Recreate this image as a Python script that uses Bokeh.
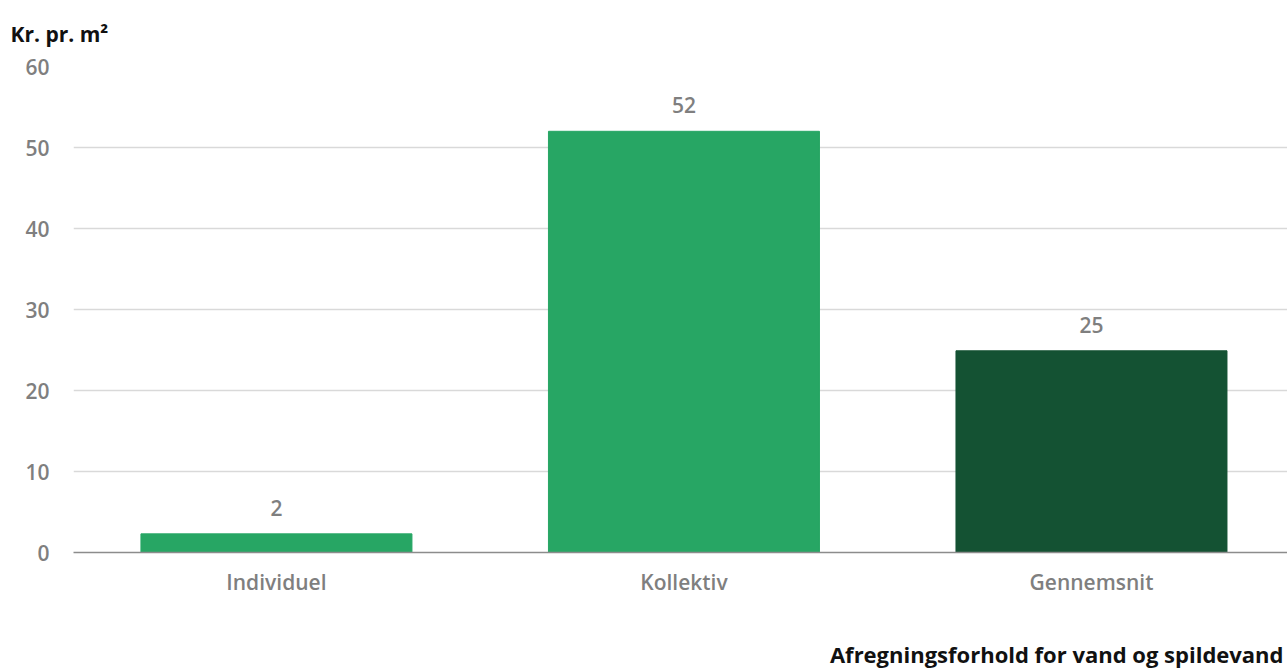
from bokeh.plotting import figure
from bokeh.models import ColumnDataSource, Range1d, LabelSet, Title, SingleIntervalTicker, FixedTicker
from bokeh.core.properties import value
from bokeh.embed import file_html
from bokeh.resources import INLINE

categories = ["Individuel", "Kollektiv", "Gennemsnit"]
values = [2.3, 52.0, 24.9]
value_labels = ["2", "52", "25"]
colors = ["#27a664", "#27a664", "#145233"]
y_title = "Kr. pr. m²"
x_title = "Afregningsforhold for vand og spildevand"

FONT = "Open Sans"
SEMI = "Open Sans SemiBold, Open Sans"
GRAY = "#7f7f7f"

xs = list(range(len(categories)))
src = ColumnDataSource(dict(x=xs, val=values, lab=value_labels, col=colors))

p = figure(width=1287, height=671, x_range=Range1d(-0.498, 2.481),
           y_range=Range1d(0, 60), output_backend="svg", toolbar_location=None,
           min_border_left=73, min_border_right=0, min_border_top=66, min_border_bottom=119)

p.vbar(x="x", top="val", width=0.665, color="col", source=src)

labels = LabelSet(x="x", y="val", text="lab", source=src, text_align="center",
                  text_baseline="middle", y_offset=26, text_font=value(SEMI),
                  text_font_size="21px", text_color=GRAY)
p.add_layout(labels)

p.outline_line_color = None
p.xgrid.grid_line_color = None
p.ygrid.grid_line_color = "#d9d9d9"
p.ygrid.grid_line_width = 1.5

p.yaxis.ticker = SingleIntervalTicker(interval=10)
p.yaxis.axis_line_color = None
p.yaxis.major_tick_line_color = None
p.yaxis.minor_tick_line_color = None
p.yaxis.major_label_standoff = 18

p.xaxis.ticker = FixedTicker(ticks=xs)
p.xaxis.major_label_overrides = {i: c for i, c in zip(xs, categories)}
p.xaxis.axis_line_color = "#8c8c8c"
p.xaxis.axis_line_width = 1.5
p.xaxis.major_tick_line_color = None
p.xaxis.minor_tick_line_color = None
p.xaxis.major_label_standoff = 9

for ax in (p.xaxis, p.yaxis):
    ax.major_label_text_font = SEMI
    ax.major_label_text_font_size = "21px"
    ax.major_label_text_color = GRAY

p.title.text = y_title
p.title.align = "left"
p.title.offset = -63
p.title.vertical_align = "top"
p.title.text_font = FONT
p.title.text_font_size = "21px"
p.title.text_color = "#111111"
p.title.text_font_style = "bold"
p.title.standoff = 34

# spacer between the x axis and the bottom title
spacer = Title(text=" ", text_font=FONT, text_font_size="20px", standoff=9)
p.add_layout(spacer, "below")
bottom = Title(text=x_title, align="right", offset=4,
               text_font=FONT, text_font_size="22px", text_font_style="bold",
               text_color="#111111", standoff=0)
p.add_layout(bottom, "below")

open("out.html", "w").write(file_html(p, INLINE))
